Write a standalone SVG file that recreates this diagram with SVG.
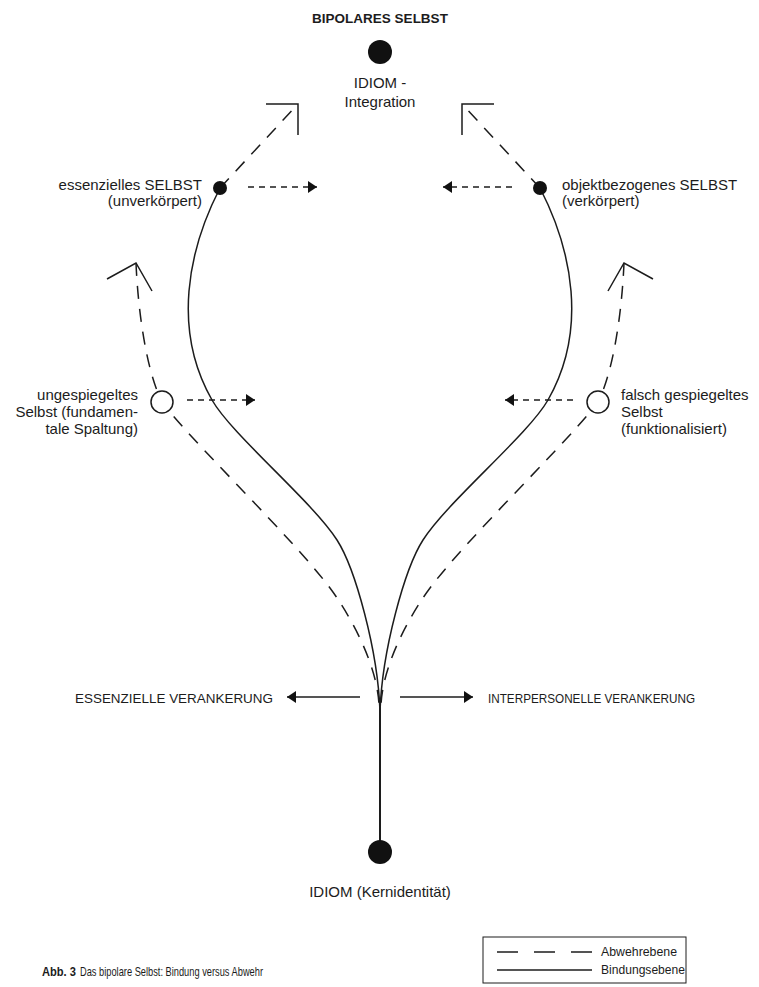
<svg xmlns="http://www.w3.org/2000/svg" width="759" height="987" viewBox="0 0 759 987">
<style>
text{font-family:"Liberation Sans",Arial,sans-serif;fill:#1c1c1c}
.lbl{font-size:15px}
.caps{font-size:13px}
.small{font-size:13px}
.solid{fill:none;stroke:#1c1c1c;stroke-width:1.5}
.def{fill:none;stroke:#1c1c1c;stroke-width:1.5;stroke-dasharray:13 10}
.short{fill:none;stroke:#1c1c1c;stroke-width:1.5;stroke-dasharray:6 5}
.open{fill:none;stroke:#1c1c1c;stroke-width:1.5}
.dot{fill:#111}
.ring{fill:#fff;stroke:#1c1c1c;stroke-width:1.5}
</style>
<defs>
<marker id="tri" markerUnits="userSpaceOnUse" markerWidth="10" markerHeight="12" refX="9" refY="6" orient="auto"><path d="M0,0 L9,6 L0,12 z" fill="#111"/></marker>
</defs>
<rect width="759" height="987" fill="#fff"/>
<text x="380" y="23" text-anchor="middle" style="font-size:13.5px;font-weight:bold">BIPOLARES SELBST</text>
<g id="connectors">
<path class="solid" d="M220,188 C188,250 172,330 212,400 C232,435 312,501 337,540 C355,568 378,650 380,712"/>
<path class="solid" d="M540,188 C572,250 588,330 548,400 C528,435 448,501 423,540 C405,568 382,650 380,712"/>
<path class="solid" style="stroke-width:2" d="M380,700 L380,845"/>
<path class="def" d="M220,188 L298,104"/>
<path class="def" d="M540,188 L462,104"/>
<path class="open" d="M266,104 L298,104 L298,135"/>
<path class="open" d="M494,104 L462,104 L462,135"/>
<path class="def" d="M136,263 C138,310 146,370 162,402 C190,440 290,535 330,588 C345,608 377,660 379,705"/>
<path class="def" d="M624,263 C622,310 614,370 598,402 C570,440 470,535 430,588 C415,608 383,660 381,705"/>
<path class="open" d="M107,279 L136,263 L152,291"/>
<path class="open" d="M653,279 L624,263 L608,291"/>
<path class="short" d="M248,187 L317,187" marker-end="url(#tri)"/>
<path class="short" d="M512,187 L443,187" marker-end="url(#tri)"/>
<path class="short" d="M187,400 L255,400" marker-end="url(#tri)"/>
<path class="short" d="M573,400 L505,400" marker-end="url(#tri)"/>
<path class="solid" d="M360,697 L287,697" marker-end="url(#tri)"/>
<path class="solid" d="M400,697 L473,697" marker-end="url(#tri)"/>
</g>
<g id="node-top">
<circle class="dot" cx="380" cy="52" r="12"/>
<text class="lbl" x="380" y="88" text-anchor="middle">IDIOM -</text>
<text class="lbl" x="380" y="107" text-anchor="middle">Integration</text>
</g>
<g id="node-essenziell">
<circle class="dot" cx="220" cy="188" r="7"/>
<text class="lbl" x="202" y="190" text-anchor="end">essenzielles SELBST</text>
<text class="lbl" x="202" y="206" text-anchor="end">(unverkörpert)</text>
</g>
<g id="node-objekt">
<circle class="dot" cx="540" cy="188" r="7"/>
<text class="lbl" x="562" y="190">objektbezogenes SELBST</text>
<text class="lbl" x="562" y="206">(verkörpert)</text>
</g>
<g id="node-ungespiegelt">
<circle class="ring" cx="162" cy="402" r="11"/>
<text class="lbl" x="138" y="400" text-anchor="end">ungespiegeltes</text>
<text class="lbl" x="138" y="417" text-anchor="end">Selbst (fundamen-</text>
<text class="lbl" x="138" y="434" text-anchor="end">tale Spaltung)</text>
</g>
<g id="node-falsch">
<circle class="ring" cx="598" cy="402" r="11"/>
<text class="lbl" x="621" y="400">falsch gespiegeltes</text>
<text class="lbl" x="621" y="417">Selbst</text>
<text class="lbl" x="621" y="434">(funktionalisiert)</text>
</g>
<g id="node-essenzielle-verankerung">
<text class="caps" x="75" y="703" textLength="198" lengthAdjust="spacingAndGlyphs">ESSENZIELLE VERANKERUNG</text>
</g>
<g id="node-interpersonelle-verankerung">
<text class="caps" x="488" y="703" textLength="207" lengthAdjust="spacingAndGlyphs">INTERPERSONELLE VERANKERUNG</text>
</g>
<g id="node-bottom">
<circle class="dot" cx="380" cy="852" r="12"/>
<text class="lbl" x="380" y="897" text-anchor="middle">IDIOM (Kernidentität)</text>
</g>
<g id="legend">
<rect x="483" y="937" width="203" height="46" fill="#fff" stroke="#1c1c1c" stroke-width="1"/>
<path d="M497,952 L592,952" fill="none" stroke="#1c1c1c" stroke-width="1.5" stroke-dasharray="21 16"/>
<path d="M497,970 L592,970" fill="none" stroke="#1c1c1c" stroke-width="1.5"/>
<text class="small" x="601" y="956" textLength="76" lengthAdjust="spacingAndGlyphs">Abwehrebene</text>
<text class="small" x="601" y="974" textLength="84" lengthAdjust="spacingAndGlyphs">Bindungsebene</text>
</g>
<g id="caption">
<text class="small" x="42" y="976" style="font-weight:bold" textLength="34" lengthAdjust="spacingAndGlyphs">Abb. 3</text>
<text class="small" x="80" y="976" textLength="183" lengthAdjust="spacingAndGlyphs">Das bipolare Selbst: Bindung versus Abwehr</text>
</g>
</svg>
